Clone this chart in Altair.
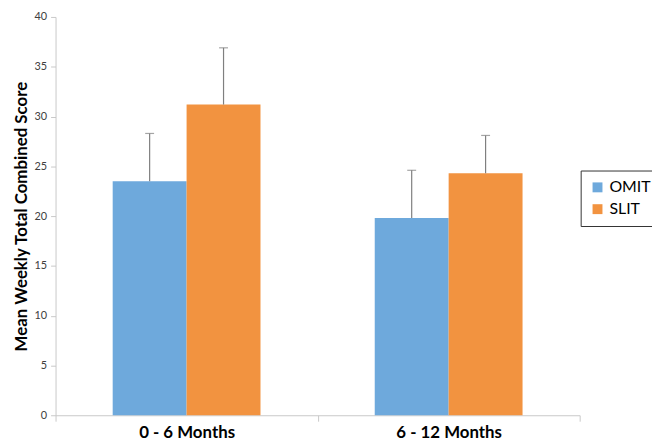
import altair as alt
import pandas as pd

periods = ["0 - 6 Months", "0 - 6 Months", "6 - 12 Months", "6 - 12 Months"]
groups = ["OMIT", "SLIT", "OMIT", "SLIT"]
means = [23.5, 31.2, 19.8, 24.3]
uppers = [28.3, 36.9, 24.6, 28.1]

df = pd.DataFrame({"period": periods, "group": groups, "mean": means, "upper": uppers})

FONT = "Lato"
xenc = alt.X("period:N", title=None,
             scale=alt.Scale(paddingInner=0, paddingOuter=0),
             axis=alt.Axis(labelAngle=0, labelFontSize=17, labelFontWeight="bold",
                           labelColor="black", labelFont=FONT, labelPadding=3,
                           tickBand="extent", tickSize=6, tickColor="#c8c8c8",
                           domainColor="#c8c8c8"))
xoff = alt.XOffset("group:N", scale=alt.Scale(paddingOuter=0.773, paddingInner=0))
yenc = alt.Y("mean:Q", title="Mean Weekly Total Combined Score",
             scale=alt.Scale(domain=[0, 40], nice=False),
             axis=alt.Axis(values=[0, 5, 10, 15, 20, 25, 30, 35, 40], grid=False,
                           labelFontSize=11, labelColor="#404040", labelFont=FONT,
                           tickSize=5, tickColor="#c8c8c8", domainColor="#c8c8c8",
                           titleFontSize=17, titleFont=FONT, titleFontWeight="bold",
                           titleColor="black", titlePadding=4, labelPadding=4))

color = alt.Color("group:N", title=None,
                  scale=alt.Scale(domain=["OMIT", "SLIT"], range=["#6EA9DC", "#F29340"]),
                  legend=alt.Legend(orient="none", legendX=530, legendY=155,
                                    strokeColor="#333333", padding=9,
                                    symbolType="square", symbolSize=100,
                                    symbolStrokeWidth=0, labelFontSize=16,
                                    labelFont=FONT, labelColor="black",
                                    rowPadding=6))

bars = alt.Chart(df).mark_bar().encode(x=xenc, xOffset=xoff, y=yenc, color=color)
rules = alt.Chart(df).mark_rule(color="#7f7f7f", strokeWidth=1.2).encode(
    x=xenc, xOffset=xoff, y=alt.Y("mean:Q"), y2="upper:Q")
caps = alt.Chart(df).mark_tick(color="#7f7f7f", thickness=1.2, size=9).encode(
    x=xenc, xOffset=xoff, y=alt.Y("upper:Q"))

chart = alt.layer(bars, rules, caps).properties(
    width=529, height=402,
    autosize=alt.AutoSizeParams(type="none"),
    padding={"left": 48, "top": 7, "right": 73, "bottom": 28},
).configure_view(stroke=None)

chart.save("out.html", embed_options={"renderer": "svg", "actions": False})
